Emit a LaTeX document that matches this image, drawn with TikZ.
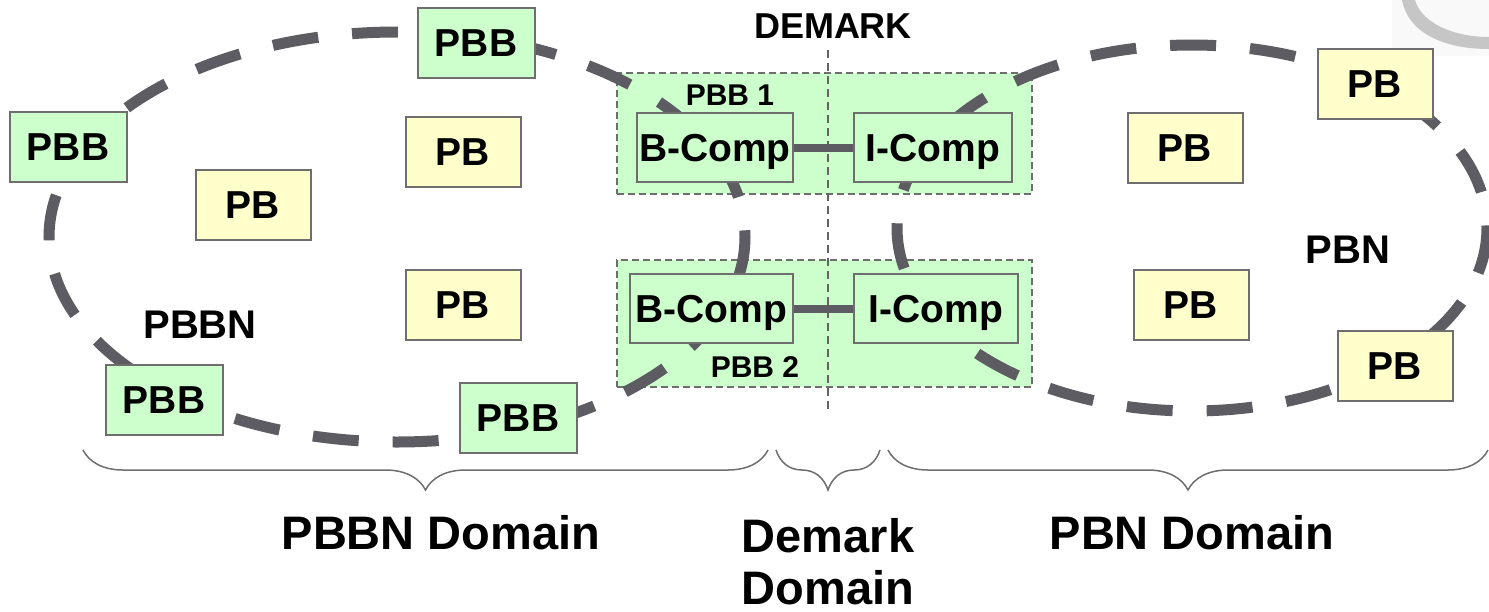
\documentclass[tikz,border=0pt]{standalone}
\usepackage{fontspec}
\setmainfont{Liberation Sans}
\usetikzlibrary{decorations.pathreplacing}
\definecolor{boxgreen}{HTML}{CCFFCC}
\definecolor{boxyellow}{HTML}{FFFFCC}
\definecolor{rimgray}{HTML}{6E6E6E}
\definecolor{ringgray}{HTML}{5C5C62}
\tikzset{
  every node/.style={font=\bfseries},
  txt/.style={font=\fontsize{#1}{#1}\selectfont\bfseries},
  bbox/.style={draw=rimgray, line width=2pt, fill=boxgreen, inner sep=0pt,
    text height=28pt, text depth=1pt,
    minimum width=117pt, minimum height=70pt, font=\fontsize{39}{39}\selectfont\bfseries},
  pbox/.style={bbox, fill=boxyellow, minimum width=115pt},
  compbox/.style={bbox, minimum height=69pt, text depth=-2pt},
  region/.style={draw=rimgray, fill=boxgreen, line width=1.6pt,
    dash pattern=on 7pt off 4pt, inner sep=0pt},
  ring/.style={draw=ringgray, line width=11pt, dash pattern=on 46pt off 34pt},
  link/.style={draw=ringgray, line width=8pt},
  demline/.style={draw=rimgray!90!black, line width=1.5pt, dash pattern=on 8pt off 5pt},
  bracket/.style={draw=rimgray, line width=1.5pt,
    decorate, decoration={brace, mirror, amplitude=40pt}},
}
\begin{document}
\begin{tikzpicture}[x=1pt, y=-1pt]
\useasboundingbox (0,0) rectangle (1489,611);

% logo fragment in the corner
\fill[gray!5] (1392,0) rectangle (1489,56);
\fill[gray!45] (1402,0) .. controls (1408,32) and (1442,49) .. (1489,49)
  -- (1489,37) .. controls (1452,37) and (1421,22) .. (1415,0) -- cycle;

% demarcation regions of the two backbone bridges
\node[region, minimum width=415pt, minimum height=121pt] (reg1) at (824.5,133.5) {};
\node[region, minimum width=415pt, minimum height=127pt] (reg2) at (824.5,323.5) {};

% demarcation line
\coordinate (demtop) at (828,50);
\coordinate (dembot) at (828,410);
\draw[demline] (demtop) -- (dembot);
\node[txt=36] (demark) at (833,26) {DEMARK};

% the two networks
\draw[ring] (397,237) ellipse [x radius=348, y radius=205];
\draw[ring] (1192,228) ellipse [x radius=295, y radius=183];

% backbone network bridges and bridges
\node[bbox] (pbbT) at (476,43) {PBB};
\node[bbox] (pbbL) at (68,147) {PBB};
\node[bbox] (pbbBL) at (164,400) {PBB};
\node[bbox] (pbbB) at (518,418) {PBB};
\node[pbox] (pbA) at (463,152) {PB};
\node[pbox] (pbB) at (253,205) {PB};
\node[pbox] (pbC) at (463,305) {PB};
\node[txt=40] (pbbn) at (200,325) {PBBN};

% provider bridged network
\node[pbox] (pbR1) at (1375,84) {PB};
\node[pbox] (pbR2) at (1185,148) {PB};
\node[pbox] (pbR3) at (1191,305) {PB};
\node[pbox] (pbR4) at (1395,366) {PB};
\node[txt=40] (pbn) at (1348,250) {PBN};

% components inside the demark bridges
\node[compbox, minimum width=156pt] (bc1) at (715,147.5) {B-Comp};
\node[compbox, minimum width=158pt] (ic1) at (933,147.5) {I-Comp};
\node[compbox, minimum width=163pt] (bc2) at (711.5,308.5) {B-Comp};
\node[compbox, minimum width=164pt] (ic2) at (936,308.5) {I-Comp};
\draw[link] (bc1) -- (ic1);
\draw[link] (bc2) -- (ic2);
\node[txt=30] (lab1) at (730,95) {PBB 1};
\node[txt=30] (lab2) at (755,367) {PBB 2};

% domains
\coordinate (b1l) at (83,450);   \coordinate (b1r) at (768,450);
\coordinate (b2l) at (776,450);  \coordinate (b2r) at (880,450);
\coordinate (b3l) at (888,450);  \coordinate (b3r) at (1488,450);
\draw[bracket] (b1l) -- (b1r);
\draw[bracket] (b2l) -- (b2r);
\draw[bracket] (b3l) -- (b3r);
\node[txt=47] (dom1) at (441,533) {PBBN Domain};
\node[align=center, inner sep=0pt, anchor=base,
  font=\fontsize{47}{52}\selectfont\bfseries] (dom2) at (828,604) {Demark\\Domain};
\node[txt=47] (dom3) at (1192,533) {PBN Domain};
\end{tikzpicture}
\end{document}
